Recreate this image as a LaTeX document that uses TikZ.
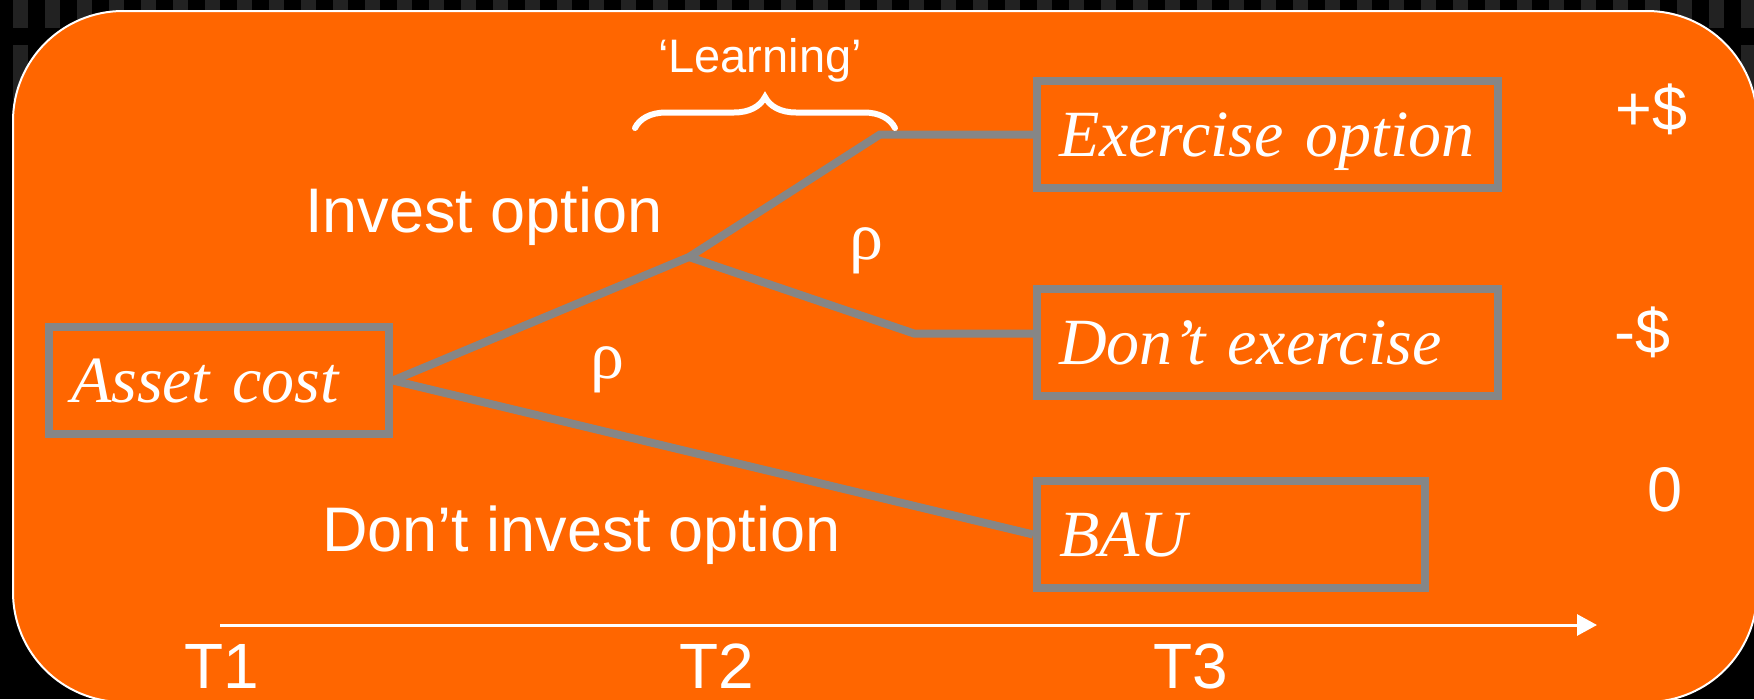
\documentclass[tikz,border=0pt]{standalone}
\usepackage{fontspec}
\setmainfont{Liberation Sans}
\newfontfamily\serifit{Liberation Serif}
\usetikzlibrary{arrows.meta,decorations.pathreplacing}
\definecolor{bgorange}{RGB}{255,102,0}
\definecolor{linegray}{RGB}{134,134,134}
\definecolor{stripe}{RGB}{34,34,34}
\begin{document}
\begin{tikzpicture}[x=1pt,y=-1pt,
  optbox/.style={draw=linegray, line width=8pt, text=white, inner xsep=22pt, inner ysep=0pt,
    minimum height=107pt, align=left, text height=44pt, text depth=0pt,
    font=\serifit\itshape\fontsize{66}{70}\selectfont},
  conn/.style={draw=linegray, line width=8pt},
  lbl/.style={text=white, inner sep=0pt, font=\fontsize{63}{70}\selectfont},
  rholbl/.style={text=white, inner sep=0pt, anchor=base, font=\serifit\fontsize{68}{70}\selectfont},
  tlbl/.style={text=white, inner sep=0pt, font=\fontsize{64}{70}\selectfont, anchor=base},
]
\useasboundingbox (0,0) rectangle (1754,699);
\fill[black] (0,0) rectangle (1754,699);
\foreach \i in {0,...,54} {
  \fill[stripe] (13+32*\i,0) rectangle (28+32*\i,28);
  \fill[stripe] (13+32*\i,45) rectangle (28+32*\i,100);
}
\draw[white, line width=2pt, fill=bgorange, rounded corners=110pt] (13,11) rectangle (1757,702);

% boxes
\node[optbox, text width=296pt] (ac) at (219,380.5) {\mbox{Asset cost}};
\node[optbox, text width=417pt] (ex) at (1267.5,134.5) {\mbox{Exercise option}};
\node[optbox, text width=417pt] (de) at (1267.5,342.5) {\mbox{Don’t exercise}};
\node[optbox, text width=344pt] (bau) at (1231,534.5) {\mbox{BAU}};

% connectors
\coordinate (j) at (689,257);
\coordinate (k1) at (880,134.5);
\coordinate (k2) at (914,333.5);
\draw[conn] (ac.east) -- (j) -- (k1) -- (ex.west);
\draw[conn] (j) -- (k2) -- (de.west |- k2);
\draw[conn] (ac.east) -- (bau.west);

% brace
\coordinate (b0) at (635,128);
\coordinate (b1) at (895,128);
\draw[white, line width=6pt, line cap=round, decorate, decoration={brace, amplitude=31pt}] (b0) -- (b1);

% labels
\node[lbl, anchor=base, font=\fontsize{47}{50}\selectfont] (learn) at (760,72) {‘Learning’};
\node[lbl, anchor=base west] (inv) at (305,232) {Invest option};
\node[lbl, anchor=base west] (dinv) at (322,551) {Don’t invest option};
\node[rholbl] (rho1) at (866,259) {ρ};
\node[rholbl] (rho2) at (607,378) {ρ};
\node[lbl, anchor=base west] (pd) at (1615,130) {+\$};
\node[lbl, anchor=base west] (md) at (1614,353) {-\$};
\node[lbl, anchor=base] (zero) at (1665,511) {0};

% time axis
\coordinate (a0) at (220,625);
\coordinate (a1) at (1597,625);
\draw[white, line width=3pt, -{Triangle[length=20pt,width=21pt]}] (a0) -- (a1);
\node[tlbl] (t1) at (221.5,688) {T1};
\node[tlbl] (t2) at (716.5,688) {T2};
\node[tlbl] (t3) at (1190.5,688) {T3};
\end{tikzpicture}
\end{document}
